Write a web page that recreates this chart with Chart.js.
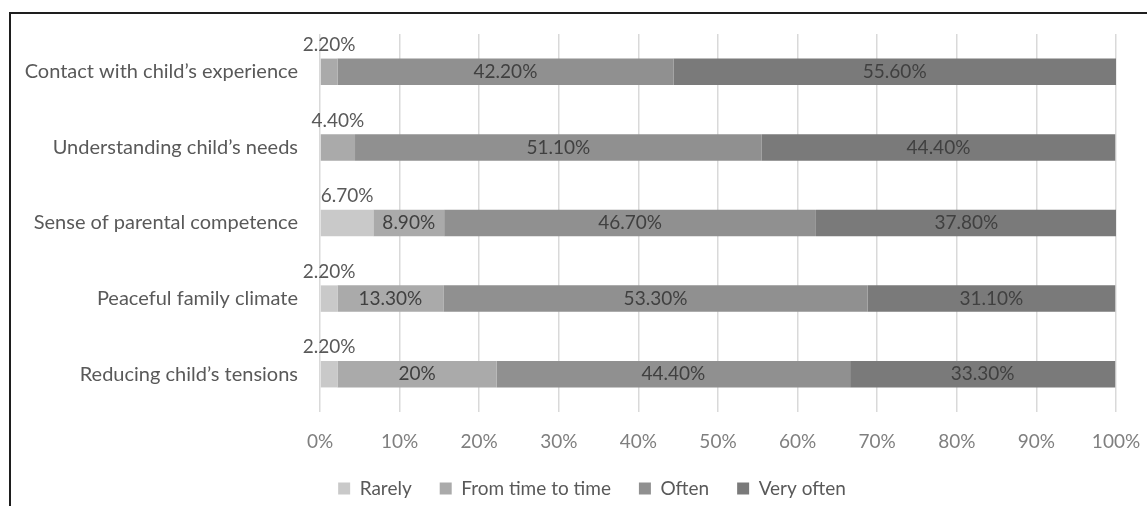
<!DOCTYPE html>
<html lang="en">
<head>
<meta charset="UTF-8">
<title>Parental outcomes</title>
<script src="https://cdn.jsdelivr.net/npm/chart.js@4.4.1/dist/chart.umd.min.js"></script>
<style>
    html, body { margin: 0; padding: 0; background: #fff; overflow: hidden; }
    #chartWrap { position: relative; width: 1147px; height: 506px; overflow: hidden; }
    #chartWrap canvas { position: absolute; left: 0; top: 0; }
    /* thin dark frame around the chart area (only top/left edge visible) */
    #chartFrame {
        position: absolute; left: 9px; top: 12px; right: -20px; bottom: -20px;
        border-top: 2px solid #1e1e1e; border-left: 2px solid #1e1e1e;
        pointer-events: none;
    }
</style>
</head>
<body>
<div id="chartWrap">
    <canvas id="outcomeChart" width="1147" height="506"></canvas>
    <div id="chartFrame"></div>
</div>
<script>
// Survey answers, percent of respondents
const categories = [
    'Contact with child\u2019s experience',
    'Understanding child\u2019s needs',
    'Sense of parental competence',
    'Peaceful family climate',
    'Reducing child\u2019s tensions'
];
const seriesNames = ['Rarely', 'From time to time', 'Often', 'Very often'];
const rarely = [0, 0, 6.7, 2.2, 2.2];
const fromTimeToTime = [2.2, 4.4, 8.9, 13.3, 20];
const often = [42.2, 51.1, 46.7, 53.3, 44.4];
const veryOften = [55.6, 44.4, 37.8, 31.1, 33.3];
const xTicks = [0, 10, 20, 30, 40, 50, 60, 70, 80, 90, 100];

const seriesColors = ['#c9c9c9', '#aaaaaa', '#909090', '#7a7a7a'];
const FONT = 'Lato, "Open Sans", sans-serif';
const FONT_SIZE = 19;
const LEGEND_OFFSET = 34;   // legend sits centred on the whole frame, not the canvas

// 2.2 -> "2.20%", 20 -> "20%"
function formatPct(v) {
    return Number.isInteger(v) ? v + '%' : v.toFixed(2) + '%';
}

// Writes the share on each segment; the first segment of a row is labelled above the bar
const valueLabels = {
    id: 'valueLabels',
    afterDatasetsDraw(chart) {
        const ctx = chart.ctx;
        const sets = chart.data.datasets;
        ctx.save();
        ctx.font = FONT_SIZE + 'px ' + FONT;
        ctx.textAlign = 'center';
        ctx.textBaseline = 'middle';
        sets.forEach((ds, i) => {
            const meta = chart.getDatasetMeta(i);
            meta.data.forEach((bar, j) => {
                const v = ds.data[j];
                if (!v) return;
                const first = sets.slice(0, i).every(d => !d.data[j]);
                const cx = (bar.x + bar.base) / 2;
                if (first) {
                    ctx.fillStyle = '#595959';
                    ctx.fillText(formatPct(v), cx, bar.y - 27);
                } else {
                    ctx.fillStyle = '#404040';
                    ctx.fillText(formatPct(v), cx, bar.y);
                }
            });
        });
        ctx.restore();
    }
};

// Moves the legend box sideways once the layout is done
const legendShift = {
    id: 'legendShift',
    afterLayout(chart) {
        if (!chart.legend) return;
        chart.legend.left += LEGEND_OFFSET;
        chart.legend.right += LEGEND_OFFSET;
    }
};

const seriesData = [rarely, fromTimeToTime, often, veryOften];

new Chart(document.getElementById('outcomeChart'), {
    type: 'bar',
    data: {
        labels: categories,
        datasets: seriesNames.map((name, i) => ({
            label: name,
            data: seriesData[i],
            backgroundColor: seriesColors[i],
            borderWidth: 0,
            categoryPercentage: 1,
            barPercentage: 0.35
        }))
    },
    options: {
        indexAxis: 'y',
        responsive: false,
        animation: false,
        devicePixelRatio: 1,
        layout: {
            padding: { left: 0, right: 31, top: 32, bottom: -2 }
        },
        scales: {
            x: {
                stacked: true,
                min: 0,
                max: 100,
                afterBuildTicks(scale) {
                    scale.ticks = xTicks.map(v => ({ value: v }));
                },
                afterFit(scale) {
                    scale.height = 39;
                    // the "100%" label may overhang the plot edge
                    scale.paddingLeft = 0;
                    scale.paddingRight = 0;
                },
                ticks: {
                    callback: v => v + '%',
                    color: '#7f7f7f',
                    padding: 18,
                    font: { family: FONT, size: FONT_SIZE }
                },
                grid: { color: '#d9d9d9', lineWidth: 1.5, drawTicks: false },
                border: { display: false }
            },
            y: {
                stacked: true,
                afterFit(scale) {
                    scale.width = 320;
                },
                ticks: {
                    color: '#595959',
                    padding: 22,
                    font: { family: FONT, size: 20 }
                },
                grid: { display: false, drawTicks: false },
                border: { display: false }
            }
        },
        plugins: {
            tooltip: { enabled: false },
            legend: {
                position: 'bottom',
                labels: {
                    boxWidth: 12,
                    boxHeight: 12,
                    padding: 28,
                    color: '#595959',
                    font: { family: FONT, size: FONT_SIZE }
                }
            }
        }
    },
    plugins: [valueLabels, legendShift]
});
</script>
</body>
</html>
